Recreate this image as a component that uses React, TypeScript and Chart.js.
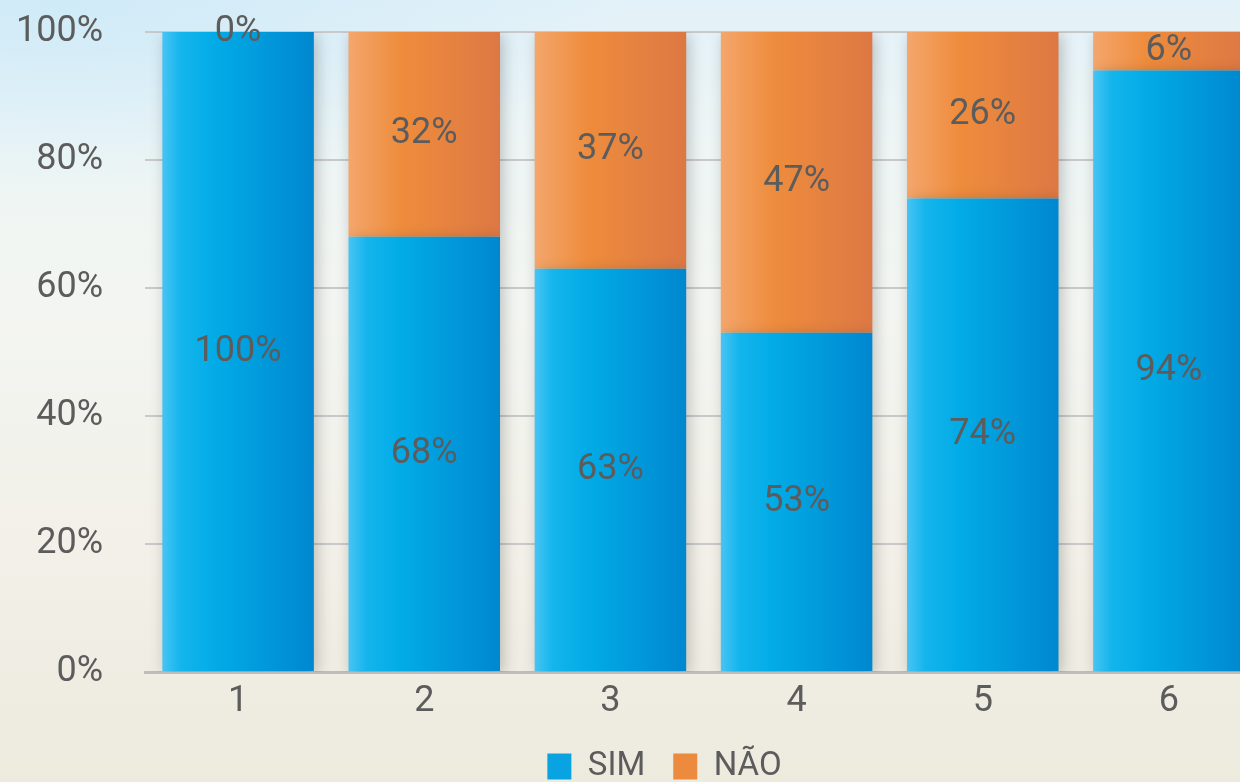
import React, { useEffect, useRef } from 'react';
import { Chart, registerables } from 'chart.js';

Chart.register(...registerables);

const categories = ['1', '2', '3', '4', '5', '6'];
const simValues = [100, 68, 63, 53, 74, 94];
const naoValues = [0, 32, 37, 47, 26, 6];
const seriesNames = ['SIM', 'NÃO'];
const yMax = 100;
const yStep = 20;

const CANVAS_W = 1329;
const CANVAS_H = 793;
const PLOT_RIGHT = 1262;
const BAR_FRAC = 0.814;
const FONT = "Roboto, 'Liberation Sans', Arial, sans-serif";
const TEXT = '#5c5c5c';

const blueStops: [number, string][] = [
  [0, '#48c4f3'],
  [0.12, '#14b5ed'],
  [0.35, '#02abe6'],
  [1, '#0087cf'],
];
const orangeStops: [number, string][] = [
  [0, '#f4a66c'],
  [0.35, '#ee8c3c'],
  [1, '#dd7844'],
];
const legendColors = ['#0aa3e2', '#ec8a3e'];

function gradientFor(stops: [number, string][]) {
  return (c: any) => {
    const chart = c.chart;
    const xs = chart.scales && chart.scales.x;
    if (!xs || !chart.chartArea || typeof c.dataIndex !== 'number') return stops[1][1];
    const cx = xs.getPixelForValue(c.dataIndex);
    const half = ((xs.width / categories.length) * BAR_FRAC) / 2;
    const g = chart.ctx.createLinearGradient(cx - half, 0, cx + half, 0);
    stops.forEach(([o, col]) => g.addColorStop(o, col));
    return g;
  };
}

const segmentPlugin = {
  id: 'segmentLabels',
  beforeDatasetsDraw(chart: any) {
    const ctx = chart.ctx;
    ctx.save();
    ctx.shadowColor = 'rgba(0,0,0,0.22)';
    ctx.shadowBlur = 14;
    ctx.shadowOffsetX = 3;
    ctx.shadowOffsetY = 3;
  },
  afterDatasetsDraw(chart: any) {
    const ctx = chart.ctx;
    ctx.restore();
    ctx.save();
    ctx.font = `36px ${FONT}`;
    ctx.fillStyle = TEXT;
    ctx.textAlign = 'center';
    ctx.textBaseline = 'middle';
    chart.data.datasets.forEach((ds: any, di: number) => {
      const meta = chart.getDatasetMeta(di);
      meta.data.forEach((el: any, i: number) => {
        const v = ds.data[i];
        ctx.fillText(`${v}%`, el.x, (el.y + el.base) / 2);
      });
    });
    ctx.restore();
  },
};

export default function App() {
  const ref = useRef<HTMLCanvasElement>(null);

  useEffect(() => {
    const canvas = ref.current;
    if (!canvas) return;
    const chart = new Chart(canvas, {
      type: 'bar',
      data: {
        labels: categories,
        datasets: [
          {
            label: seriesNames[0],
            data: simValues,
            backgroundColor: gradientFor(blueStops) as any,
            borderWidth: 0,
            categoryPercentage: 1,
            barPercentage: BAR_FRAC,
          },
          {
            label: seriesNames[1],
            data: naoValues,
            backgroundColor: gradientFor(orangeStops) as any,
            borderWidth: 0,
            categoryPercentage: 1,
            barPercentage: BAR_FRAC,
          },
        ],
      },
      options: {
        responsive: false,
        animation: false,
        devicePixelRatio: 1,
        layout: { padding: { top: 32, left: 0, right: 0, bottom: 0 } },
        plugins: {
          tooltip: { enabled: false },
          legend: {
            position: 'bottom',
            labels: {
              font: { family: FONT, size: 33 },
              color: TEXT,
              boxWidth: 24,
              boxHeight: 26,
              padding: 28,
              generateLabels: (ch: any) =>
                ch.data.datasets.map((ds: any, i: number) => ({
                  text: ds.label,
                  fillStyle: legendColors[i],
                  strokeStyle: 'rgba(0,0,0,0)',
                  lineWidth: 0,
                  hidden: false,
                  datasetIndex: i,
                  fontColor: TEXT,
                })),
            },
          },
        },
        scales: {
          x: {
            stacked: true,
            grid: { display: false, drawTicks: false },
            border: { display: true, color: '#bdbdbd', width: 3 },
            ticks: { padding: 8, color: TEXT, font: { family: FONT, size: 36 } },
            afterFit: (s: any) => {
              s.height = 50;
              s.paddingLeft = 0;
              s.paddingRight = 0;
            },
          },
          y: {
            stacked: true,
            min: 0,
            max: yMax,
            ticks: {
              stepSize: yStep,
              padding: 42,
              color: TEXT,
              font: { family: FONT, size: 36 },
              callback: (v: any) => `${v}%`,
            },
            grid: { color: '#c9c9c9', lineWidth: 2, drawTicks: false },
            border: { display: false },
            afterFit: (s: any) => {
              s.width = 145;
              s.paddingTop = 0;
              s.paddingBottom = 0;
            },
          },
          y2: {
            position: 'right',
            display: true,
            grid: { display: false, drawTicks: false },
            border: { display: false },
            ticks: { display: false },
            afterFit: (s: any) => {
              s.width = CANVAS_W - PLOT_RIGHT;
              s.paddingTop = 0;
              s.paddingBottom = 0;
            },
          },
        },
      } as any,
      plugins: [segmentPlugin],
    });
    return () => chart.destroy();
  }, []);

  return (
    <div
      style={{
        position: 'fixed',
        left: 0,
        top: 0,
        width: 1240,
        height: 782,
        overflow: 'hidden',
        background:
          'radial-gradient(ellipse 45% 25% at 5% 0%, rgba(205,234,248,0.9) 0%, rgba(205,234,248,0) 100%), linear-gradient(180deg, #e2f1f8 0%, #eef5f5 18%, #f3f5f1 40%, #f2f0e8 70%, #edeade 100%)',
      }}
    >
      <canvas
        ref={ref}
        width={CANVAS_W}
        height={CANVAS_H}
        style={{ display: 'block', width: CANVAS_W, height: CANVAS_H }}
      />
    </div>
  );
}
